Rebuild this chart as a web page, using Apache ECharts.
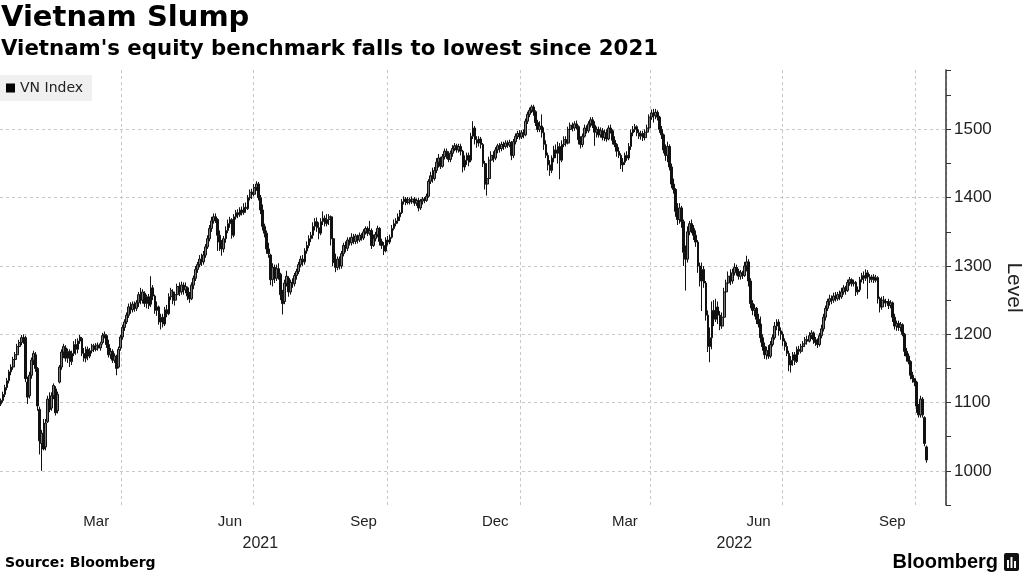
<!DOCTYPE html>
<html><head><meta charset="utf-8">
<script src="https://cdn.jsdelivr.net/npm/echarts@6/dist/echarts.min.js"></script>
<style>html,body{margin:0;padding:0;background:#fff}#c{width:1024px;height:576px}</style>
</head><body><div id="c"></div>
<script>
const titleText = 'Vietnam Slump';
const subtitleText = "Vietnam's equity benchmark falls to lowest since 2021";
const sourceText = 'Source: Bloomberg';
const brandText = 'Bloomberg';
const seriesName = 'VN Index';
const yAxisName = 'Level';
const monthNames = ['Jan','Feb','Mar','Apr','May','Jun','Jul','Aug','Sep','Oct','Nov','Dec'];
const labelMonths = [2, 5, 8, 11];     // months whose names are shown (mid-month)
const gridMonths = [0, 3, 6, 9];       // quarter starts get a vertical dashed line
const firstDay = [2021, 0, 7];
const dayCount = 467;                  // weekdays on the axis
const yLabelValues = [1000, 1100, 1200, 1300, 1400, 1500];

// daily candles [open, close, low, high]
const candles = [
[1098,1103,1095,1106],[1103,1112,1100,1116],[1112,1122,1108,1126],[1122,1132,1118,1136],[1132,1145,1128,1148],[1145,1152,1140,1156],[1152,1163,1148,1167],[1163,1170,1158,1174],
[1170,1182,1165,1186],[1182,1188,1176,1192],[1188,1195,1184,1199],[1195,1192,1186,1200],[1195,1135,1130,1198],[1130,1108,1098,1138],[1110,1140,1106,1145],[1140,1162,1135,1166],
[1162,1172,1155,1176],[1170,1150,1145,1174],[1150,1095,1088,1152],[1090,1044,1024,1094],[1040,1055,1000,1060],[1055,1032,1030,1076],[1035,1070,1030,1076],[1072,1105,1070,1110],
[1105,1090,1086,1115],[1092,1110,1088,1115],[1110,1125,1105,1128],[1120,1085,1081,1124],[1088,1112,1084,1116],[1130,1152,1128,1155],[1152,1174,1148,1178],[1174,1182,1165,1186],
[1180,1165,1160,1184],[1165,1175,1158,1179],[1175,1160,1152,1178],[1160,1172,1155,1176],[1172,1185,1168,1190],[1185,1178,1170,1193],[1178,1190,1172,1194],[1190,1196,1186,1199],
[1194,1172,1168,1196],[1172,1165,1160,1180],[1165,1178,1159,1182],[1178,1168,1162,1182],[1168,1176,1165,1180],[1176,1183,1172,1186],[1183,1178,1174,1186],[1178,1184,1175,1187],
[1184,1180,1176,1188],[1180,1186,1176,1189],[1188,1198,1185,1202],[1198,1200,1194,1204],[1198,1185,1180,1200],[1185,1170,1166,1192],[1170,1175,1164,1180],[1175,1162,1158,1178],
[1162,1168,1158,1172],[1168,1150,1140,1170],[1152,1178,1150,1182],[1180,1196,1176,1199],[1196,1210,1192,1214],[1210,1218,1205,1222],[1218,1228,1215,1232],[1228,1240,1224,1245],
[1240,1236,1230,1247],[1236,1244,1232,1248],[1244,1238,1233,1248],[1238,1246,1234,1250],[1246,1258,1240,1262],[1258,1250,1244,1268],[1250,1262,1245,1266],[1260,1245,1240,1263],
[1245,1255,1238,1258],[1255,1242,1237,1259],[1244,1268,1240,1285],[1268,1256,1250,1272],[1256,1235,1230,1258],[1235,1240,1227,1248],[1240,1218,1214,1242],[1218,1225,1207,1230],
[1225,1215,1210,1230],[1215,1236,1212,1240],[1236,1230,1225,1243],[1230,1255,1228,1260],[1255,1264,1250,1268],[1262,1250,1244,1266],[1250,1258,1242,1262],[1258,1270,1254,1274],
[1270,1262,1256,1276],[1262,1272,1258,1277],[1272,1265,1258,1276],[1265,1270,1260,1276],[1268,1256,1250,1270],[1256,1252,1246,1262],[1252,1272,1250,1276],[1272,1282,1266,1286],
[1282,1295,1278,1300],[1295,1302,1290,1306],[1302,1310,1298,1316],[1310,1306,1300,1318],[1306,1316,1302,1322],[1316,1328,1312,1332],[1328,1340,1325,1345],[1340,1355,1336,1360],
[1355,1366,1350,1372],[1366,1372,1362,1377],[1372,1368,1363,1377],[1368,1345,1322,1370],[1345,1335,1322,1352],[1335,1325,1315,1338],[1325,1340,1320,1344],[1340,1352,1334,1358],
[1352,1362,1348,1368],[1362,1368,1356,1372],[1368,1345,1340,1370],[1345,1372,1342,1376],[1372,1378,1368,1382],[1378,1375,1370,1383],[1375,1382,1372,1386],[1382,1378,1374,1387],
[1378,1386,1375,1392],[1386,1384,1378,1393],[1384,1400,1382,1404],[1400,1408,1396,1412],[1408,1405,1398,1413],[1405,1415,1402,1420],[1415,1420,1410,1424],[1420,1400,1396,1423],
[1400,1382,1376,1404],[1382,1358,1352,1390],[1358,1348,1342,1362],[1348,1325,1318,1352],[1325,1318,1312,1334],[1316,1280,1272,1318],[1280,1298,1270,1304],[1298,1282,1275,1302],
[1282,1296,1278,1302],[1296,1288,1280,1304],[1288,1258,1250,1290],[1258,1245,1229,1265],[1248,1275,1244,1280],[1275,1285,1270,1293],[1282,1262,1255,1285],[1262,1276,1258,1280],
[1276,1274,1268,1282],[1274,1286,1270,1290],[1286,1292,1280,1296],[1292,1302,1288,1306],[1302,1310,1298,1315],[1310,1306,1300,1316],[1306,1322,1302,1326],[1322,1330,1318,1336],
[1330,1340,1326,1345],[1340,1345,1335,1350],[1345,1358,1340,1364],[1358,1365,1352,1370],[1365,1356,1350,1371],[1356,1348,1339,1364],[1348,1365,1345,1370],[1365,1370,1360,1380],
[1370,1362,1358,1374],[1362,1368,1358,1376],[1368,1372,1360,1376],[1372,1340,1330,1374],[1340,1305,1300,1342],[1305,1298,1291,1318],[1298,1310,1294,1314],[1310,1300,1295,1314],
[1300,1318,1296,1322],[1318,1330,1314,1334],[1330,1326,1320,1336],[1326,1338,1322,1342],[1338,1334,1330,1342],[1334,1342,1330,1348],[1342,1336,1332,1347],[1336,1344,1332,1347],
[1344,1338,1333,1346],[1338,1345,1335,1349],[1345,1341,1337,1348],[1341,1350,1338,1354],[1350,1355,1346,1358],[1355,1348,1344,1358],[1348,1352,1345,1366],[1352,1330,1325,1355],
[1330,1340,1328,1346],[1340,1346,1336,1350],[1346,1355,1342,1359],[1355,1336,1330,1357],[1336,1330,1325,1340],[1330,1322,1316,1335],[1322,1338,1320,1342],[1338,1335,1330,1344],
[1335,1342,1332,1346],[1342,1355,1340,1360],[1355,1362,1352,1368],[1362,1366,1358,1370],[1366,1372,1362,1377],[1372,1378,1366,1382],[1378,1394,1376,1398],[1394,1398,1390,1402],
[1398,1393,1389,1401],[1393,1397,1390,1401],[1397,1394,1390,1400],[1394,1398,1391,1402],[1398,1392,1388,1401],[1392,1396,1388,1399],[1396,1385,1380,1400],[1385,1395,1382,1398],
[1395,1398,1390,1401],[1398,1396,1392,1401],[1396,1402,1394,1406],[1402,1424,1400,1427],[1424,1432,1420,1438],[1432,1428,1422,1444],[1428,1440,1425,1445],[1440,1452,1436,1458],
[1452,1458,1444,1464],[1458,1446,1442,1460],[1446,1460,1444,1464],[1460,1468,1456,1472],[1468,1462,1457,1472],[1462,1456,1452,1468],[1456,1465,1452,1469],[1465,1472,1460,1477],
[1472,1476,1468,1480],[1476,1470,1466,1479],[1470,1475,1466,1479],[1475,1468,1462,1479],[1468,1445,1437,1470],[1445,1455,1440,1462],[1455,1462,1448,1466],[1462,1452,1446,1466],
[1455,1490,1452,1495],[1490,1502,1486,1512],[1502,1485,1478,1505],[1485,1480,1473,1490],[1480,1486,1475,1490],[1486,1478,1472,1489],[1478,1450,1445,1480],[1450,1420,1412,1454],
[1420,1428,1403,1440],[1428,1455,1425,1460],[1455,1462,1450,1468],[1462,1458,1452,1468],[1458,1470,1455,1474],[1470,1476,1465,1479],[1476,1472,1466,1480],[1472,1478,1468,1482],
[1478,1475,1470,1482],[1475,1480,1472,1484],[1480,1477,1473,1484],[1477,1481,1474,1485],[1481,1462,1455,1483],[1462,1482,1458,1486],[1482,1490,1478,1494],[1490,1494,1486,1498],
[1494,1489,1485,1499],[1489,1495,1486,1499],[1495,1492,1487,1500],[1492,1512,1490,1516],[1512,1522,1508,1526],[1522,1528,1518,1532],[1528,1533,1524,1536],[1533,1526,1520,1536],
[1526,1510,1505,1528],[1510,1500,1496,1514],[1500,1505,1496,1512],[1505,1495,1488,1522],[1495,1478,1470,1503],[1478,1462,1458,1484],[1462,1448,1440,1466],[1448,1440,1432,1455],
[1440,1458,1436,1462],[1458,1470,1452,1476],[1470,1465,1458,1478],[1465,1475,1450,1482],[1475,1455,1427,1480],[1455,1478,1452,1484],[1478,1485,1474,1490],[1485,1480,1475,1490],
[1480,1500,1478,1504],[1500,1506,1496,1510],[1506,1502,1497,1510],[1502,1508,1498,1512],[1508,1504,1500,1513],[1504,1485,1478,1506],[1485,1478,1472,1490],[1478,1490,1474,1494],
[1490,1502,1488,1507],[1502,1498,1494,1506],[1498,1508,1495,1512],[1508,1514,1503,1518],[1514,1506,1502,1518],[1506,1496,1476,1512],[1496,1500,1488,1504],[1500,1492,1488,1504],
[1492,1498,1488,1503],[1498,1488,1484,1502],[1488,1495,1483,1500],[1495,1486,1482,1500],[1486,1502,1484,1506],[1502,1498,1494,1507],[1498,1484,1478,1500],[1484,1478,1474,1490],
[1478,1468,1460,1480],[1468,1462,1458,1474],[1462,1448,1442,1465],[1448,1452,1438,1458],[1452,1462,1448,1466],[1462,1458,1454,1468],[1458,1475,1455,1480],[1475,1495,1470,1500],
[1495,1500,1490,1505],[1500,1504,1496,1508],[1504,1495,1490,1506],[1495,1490,1486,1500],[1490,1494,1485,1498],[1494,1488,1483,1498],[1488,1496,1484,1500],[1496,1502,1492,1507],
[1502,1518,1500,1522],[1518,1524,1514,1529],[1524,1520,1510,1530],[1520,1525,1515,1530],[1525,1518,1513,1528],[1518,1500,1495,1520],[1500,1492,1486,1505],[1492,1470,1465,1494],
[1470,1462,1454,1478],[1462,1475,1452,1482],[1475,1445,1440,1478],[1445,1420,1414,1450],[1420,1412,1406,1428],[1412,1380,1372,1414],[1380,1368,1360,1392],[1368,1385,1362,1392],
[1385,1365,1356,1388],[1365,1320,1300,1368],[1320,1310,1264,1330],[1310,1350,1305,1358],[1350,1362,1345,1366],[1362,1355,1348,1368],[1355,1345,1338,1360],[1345,1335,1328,1352],
[1335,1300,1290,1338],[1300,1278,1270,1305],[1278,1295,1234,1305],[1295,1275,1268,1300],[1275,1228,1220,1278],[1228,1182,1174,1235],[1182,1195,1159,1210],[1195,1235,1178,1248],
[1235,1222,1212,1250],[1222,1240,1218,1252],[1240,1228,1215,1248],[1228,1212,1206,1234],[1212,1225,1208,1232],[1225,1262,1222,1268],[1262,1275,1255,1280],[1275,1285,1270,1292],
[1285,1278,1272,1295],[1278,1290,1274,1296],[1290,1298,1286,1304],[1298,1292,1286,1302],[1292,1285,1280,1296],[1285,1290,1280,1294],[1290,1286,1281,1293],[1286,1300,1284,1306],
[1300,1306,1292,1315],[1306,1278,1270,1310],[1278,1245,1238,1282],[1245,1235,1228,1250],[1235,1238,1226,1244],[1238,1222,1215,1240],[1222,1215,1210,1230],[1215,1195,1188,1226],
[1195,1182,1176,1200],[1182,1170,1164,1188],[1170,1176,1163,1182],[1176,1168,1164,1184],[1168,1185,1165,1190],[1185,1195,1182,1200],[1195,1212,1192,1218],[1212,1218,1206,1222],
[1218,1205,1198,1222],[1205,1200,1192,1210],[1200,1190,1183,1204],[1190,1182,1176,1194],[1182,1172,1168,1188],[1172,1155,1146,1176],[1155,1162,1144,1168],[1162,1170,1154,1174],
[1170,1160,1155,1174],[1160,1178,1158,1182],[1178,1175,1170,1183],[1175,1182,1172,1186],[1182,1186,1178,1190],[1186,1192,1182,1196],[1192,1190,1185,1198],[1190,1198,1188,1203],
[1198,1202,1193,1206],[1202,1192,1186,1204],[1192,1188,1183,1196],[1188,1185,1180,1194],[1185,1198,1182,1202],[1198,1208,1194,1214],[1208,1225,1204,1230],[1225,1238,1220,1242],
[1238,1248,1234,1252],[1248,1252,1242,1258],[1252,1250,1244,1257],[1250,1256,1246,1261],[1256,1252,1248,1262],[1252,1258,1249,1262],[1258,1255,1250,1264],[1255,1262,1252,1268],
[1262,1268,1258,1272],[1268,1264,1258,1271],[1264,1276,1262,1280],[1276,1280,1271,1284],[1280,1274,1270,1282],[1274,1276,1270,1280],[1276,1262,1256,1278],[1262,1265,1258,1270],
[1265,1280,1262,1284],[1280,1286,1276,1290],[1286,1282,1274,1292],[1282,1290,1278,1295],[1290,1284,1252,1294],[1284,1280,1275,1288],[1280,1284,1276,1287],[1284,1279,1275,1288],
[1279,1283,1276,1287],[1283,1252,1245,1285],[1252,1240,1232,1255],[1240,1250,1236,1255],[1250,1246,1241,1256],[1246,1248,1240,1252],[1248,1242,1237,1252],[1242,1246,1238,1250],
[1246,1225,1218,1248],[1225,1212,1207,1230],[1212,1216,1205,1220],[1216,1210,1205,1220],[1210,1214,1204,1218],[1214,1200,1197,1216],[1200,1175,1168,1202],[1175,1168,1160,1180],
[1168,1160,1156,1172],[1160,1140,1134,1162],[1140,1135,1129,1145],[1135,1130,1124,1136],[1130,1095,1085,1132],[1095,1082,1078,1098],[1082,1105,1078,1110],[1105,1082,1078,1108],
[1078,1040,1036,1080],[1035,1016,1012,1037]
];

// weekday categories
const dates = [];
(function () {
  let t = Date.UTC(firstDay[0], firstDay[1], firstDay[2]);
  while (dates.length < dayCount) {
    const d = new Date(t);
    const wd = d.getUTCDay();
    if (wd !== 0 && wd !== 6) dates.push(d.toISOString().slice(0, 10));
    t += 86400000;
  }
})();
const parts = dates.map(s => s.split('-').map(Number));
const monthLabelIdx = new Set();
const gridIdx = new Set();
const yearIdx = new Set();
parts.forEach((p, i) => {
  const prev = i > 0 ? parts[i - 1] : null;
  if (labelMonths.includes(p[1] - 1) && p[2] >= 15 && (!prev || prev[1] !== p[1] || prev[2] < 15)) monthLabelIdx.add(i);
  if (prev && gridMonths.includes(p[1] - 1) && prev[1] !== p[1]) gridIdx.add(i);
});
const byYear = {};
parts.forEach((p, i) => { (byYear[p[0]] = byYear[p[0]] || []).push(i); });
Object.keys(byYear).forEach(y => { const a = byYear[y]; yearIdx.add(a[Math.floor(a.length / 2)]); });

const chart = echarts.init(document.getElementById('c'), null, { renderer: 'canvas' });
const TXT = '#222';
chart.setOption({
  animation: false,
  backgroundColor: '#fff',
  title: [
    { text: titleText, left: 1, top: 4, padding: 0,
      textStyle: { fontFamily: 'DejaVu Sans', fontWeight: 'bold', fontSize: 29, color: '#000' } },
    { text: subtitleText, left: 1, top: 39, padding: 0,
      textStyle: { fontFamily: 'DejaVu Sans', fontWeight: 'bold', fontSize: 21.3, color: '#000' } },
    { text: sourceText, left: 5, top: 556, padding: 0,
      textStyle: { fontFamily: 'DejaVu Sans', fontWeight: 'bold', fontSize: 14, color: '#000' } },
    { text: brandText, right: 26, top: 552, padding: 0,
      textStyle: { fontFamily: 'Liberation Sans', fontWeight: 'bold', fontSize: 20, color: '#000' } }
  ],
  graphic: [
    { type: 'group', right: 5, top: 553, children: [
      { type: 'rect', shape: { x: 0, y: 0, width: 15, height: 18, r: 2 }, style: { fill: '#111' } },
      { type: 'rect', shape: { x: 3, y: 7, width: 2, height: 8 }, style: { fill: '#fff' } },
      { type: 'rect', shape: { x: 6.5, y: 4, width: 2, height: 11 }, style: { fill: '#fff' } },
      { type: 'rect', shape: { x: 10, y: 8, width: 2, height: 7 }, style: { fill: '#fff' } }
    ] }
  ],
  legend: {
    left: 0, top: 75, padding: [6, 9, 6, 6], backgroundColor: '#f0f0f0',
    itemWidth: 9, itemHeight: 9, itemGap: 4,
    textStyle: { fontFamily: 'DejaVu Sans', fontSize: 14, color: TXT },
    data: [{ name: seriesName, icon: 'rect', itemStyle: { color: '#000', borderWidth: 0 } }]
  },
  grid: { left: 0, right: 78, top: 70, bottom: 71, outerBoundsMode: 'none', containLabel: false },
  xAxis: [
    { type: 'category', data: dates, boundaryGap: true,
      axisLine: { show: false }, axisTick: { show: false },
      axisLabel: { interval: (i) => monthLabelIdx.has(i), margin: 9,
        formatter: (v) => monthNames[Number(v.slice(5, 7)) - 1],
        fontFamily: 'Liberation Sans', fontSize: 15, color: TXT },
      splitLine: { show: true, interval: (i) => gridIdx.has(i),
        lineStyle: { color: '#c8c8c8', type: [3, 3], width: 1 } } },
    { type: 'category', data: dates, boundaryGap: true, position: 'bottom', offset: 22,
      axisLine: { show: false }, axisTick: { show: false }, splitLine: { show: false },
      axisLabel: { interval: (i) => yearIdx.has(i), margin: 9,
        formatter: (v) => v.slice(0, 4),
        fontFamily: 'Liberation Sans', fontSize: 16, color: TXT } }
  ],
  yAxis: {
    type: 'value', position: 'right', min: 950, max: 1587, interval: 50, scale: true,
    name: yAxisName, nameLocation: 'middle', nameRotate: -90, nameGap: 57,
    nameTextStyle: { fontFamily: 'Liberation Sans', fontSize: 21, color: TXT },
    axisLine: { show: true, lineStyle: { color: '#333', width: 1.5 } },
    axisTick: { show: true, length: 5, lineStyle: { color: '#333', width: 1 } },
    axisLabel: { margin: 8, fontFamily: 'Liberation Sans', fontSize: 17, color: TXT,
      formatter: (v) => yLabelValues.includes(v) ? String(v) : '' },
    splitLine: { show: true, showMinLine: true, showMaxLine: false,
      lineStyle: { color: ['rgba(0,0,0,0)', '#c8c8c8'], type: [3, 3], width: 1 } }
  },
  series: [{
    type: 'candlestick', name: seriesName, data: candles, barWidth: 2.2,
    itemStyle: { color: '#777', color0: '#111', borderColor: '#111', borderColor0: '#111', borderWidth: 1 }
  }]
});
</script></body></html>
